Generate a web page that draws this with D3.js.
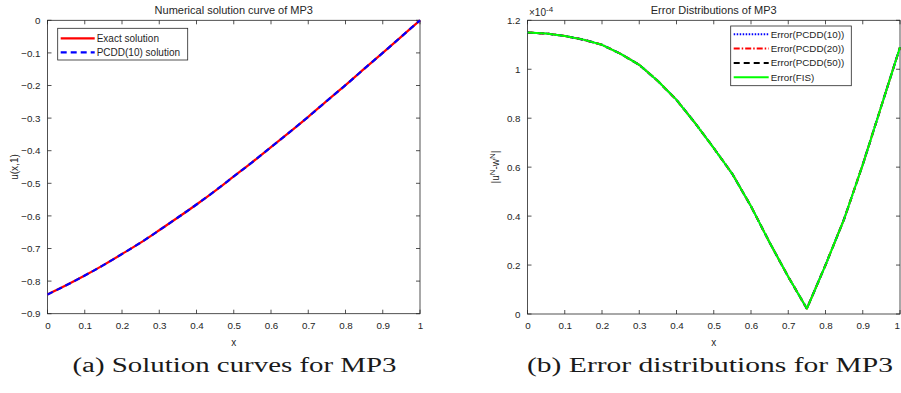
<!DOCTYPE html>
<html><head><meta charset="utf-8">
<script src="https://cdn.jsdelivr.net/npm/d3@7"></script>
<style>body{margin:0;background:#fff}svg text{font-family:"Liberation Sans",Arial,sans-serif;fill:#262626}</style>
</head><body><svg id="c" width="901" height="393"></svg>
<script>
// ---- data ----
const xs = [0,0.05,0.1,0.15,0.2,0.25,0.3,0.35,0.4,0.45,0.5,0.55,0.6,0.65,0.7,0.75,0.8,0.85,0.9,0.95,1];
const exactSol = [-0.841,-0.813,-0.783,-0.751,-0.717,-0.682,-0.644,-0.605,-0.565,-0.523,-0.479,-0.435,-0.389,-0.343,-0.296,-0.247,-0.199,-0.149,-0.100,-0.050,0.000];
const pcdd10Sol = [-0.841,-0.813,-0.783,-0.751,-0.717,-0.682,-0.644,-0.605,-0.565,-0.523,-0.479,-0.435,-0.389,-0.343,-0.296,-0.247,-0.199,-0.149,-0.100,-0.050,0.000];
// errors in units of 1e-4
const errFIS =    [1.150,1.146,1.136,1.121,1.100,1.063,1.018,0.952,0.875,0.780,0.678,0.572,0.440,0.292,0.152,0.022,0.200,0.388,0.610,0.850,1.090];
const errPCDD10 = [1.150,1.146,1.136,1.121,1.100,1.063,1.018,0.952,0.875,0.780,0.678,0.572,0.440,0.292,0.152,0.022,0.200,0.388,0.610,0.850,1.090];
const errPCDD20 = [1.150,1.146,1.136,1.121,1.100,1.063,1.018,0.952,0.875,0.780,0.678,0.572,0.440,0.292,0.152,0.022,0.200,0.388,0.610,0.850,1.090];
const errPCDD50 = [1.150,1.146,1.136,1.121,1.100,1.063,1.018,0.952,0.875,0.780,0.678,0.572,0.440,0.292,0.152,0.022,0.200,0.388,0.610,0.850,1.090];
const xTicks = [0,0.1,0.2,0.3,0.4,0.5,0.6,0.7,0.8,0.9,1];
const yTicksA = [-0.9,-0.8,-0.7,-0.6,-0.5,-0.4,-0.3,-0.2,-0.1,0];
const yTicksB = [0,0.2,0.4,0.6,0.8,1,1.2];
const legendA = ["Exact solution","PCDD(10) solution"];
const legendB = ["Error(PCDD(10))","Error(PCDD(20))","Error(PCDD(50))","Error(FIS)"];

const svg = d3.select("#c");
const axCol = "#262626";

function panel(opt){
  const g = svg.append("g");
  const x = d3.scaleLinear().domain([0,1]).range([opt.x0,opt.x1]);
  const y = d3.scaleLinear().domain(opt.yDom).range([opt.yb,opt.yt]);
  const tl = 4;
  const ax = d3.axisBottom(x).tickValues(xTicks).tickSize(0).tickPadding(8).tickFormat(d=>d3.format("")(+d.toFixed(1)));
  const gx = g.append("g").attr("transform",`translate(0,${opt.yb})`).call(ax);
  gx.select(".domain").remove();
  gx.selectAll("text").attr("font-size",9.8).style("fill",axCol).attr("font-family","Liberation Sans, Arial");
  if (opt.clampLast) gx.selectAll(".tick").filter(d=>d===1).select("text").attr("text-anchor","end").attr("x",-0.5);
  const ay = d3.axisLeft(y).tickValues(opt.yTicks).tickSize(0).tickPadding(7).tickFormat(opt.fmt);
  const gy = g.append("g").attr("transform",`translate(${opt.x0},0)`).call(ay);
  gy.select(".domain").remove();
  gy.selectAll("text").attr("font-size",9.8).style("fill",axCol).attr("font-family","Liberation Sans, Arial");
  xTicks.forEach(t=>{
    g.append("line").attr("x1",x(t)).attr("x2",x(t)).attr("y1",opt.yb).attr("y2",opt.yb-tl).attr("stroke",axCol).attr("stroke-width",0.8);
    g.append("line").attr("x1",x(t)).attr("x2",x(t)).attr("y1",opt.yt).attr("y2",opt.yt+tl).attr("stroke",axCol).attr("stroke-width",0.8);
  });
  opt.yTicks.forEach(t=>{
    g.append("line").attr("x1",opt.x0).attr("x2",opt.x0+tl).attr("y1",y(t)).attr("y2",y(t)).attr("stroke",axCol).attr("stroke-width",0.8);
    g.append("line").attr("x1",opt.x1).attr("x2",opt.x1-tl).attr("y1",y(t)).attr("y2",y(t)).attr("stroke",axCol).attr("stroke-width",0.8);
  });
  g.append("rect").attr("x",opt.x0).attr("y",opt.yt).attr("width",opt.x1-opt.x0).attr("height",opt.yb-opt.yt)
    .attr("fill","none").attr("stroke",axCol).attr("stroke-width",0.8);
  const clip = "clip"+opt.id;
  svg.append("clipPath").attr("id",clip).append("rect").attr("x",opt.x0-2).attr("y",opt.yt-2).attr("width",opt.x1-opt.x0+4).attr("height",opt.yb-opt.yt+4);
  const lg = g.append("g").attr("clip-path",`url(#${clip})`);
  const line = d3.line().curve(d3.curveMonotoneX).x((d,i)=>x(xs[i])).y(d=>y(d));
  const lineLin = d3.line().x((d,i)=>x(xs[i])).y(d=>y(d));
  opt.series.forEach(s=>{
    lg.append("path").datum(s.data).attr("d",opt.linear?lineLin:line).attr("fill","none").attr("stroke",s.color)
      .attr("stroke-width",s.w).attr("stroke-dasharray",s.dash||null).attr("stroke-linejoin","round");
  });
  g.append("text").attr("x",(opt.x0+opt.x1)/2).attr("y",14).attr("text-anchor","middle").attr("font-size",11).text(opt.title);
  g.append("text").attr("x",(opt.x0+opt.x1)/2).attr("y",346).attr("text-anchor","middle").attr("font-size",10).text("x");
  g.append("text").attr("x",opt.capX).attr("y",372).attr("text-anchor","middle")
    .attr("font-size",20).style("font-family","'Liberation Serif','DejaVu Serif',serif").style("fill","#1a1a1a")
    .attr("textLength",opt.capW).attr("lengthAdjust","spacingAndGlyphs").text(opt.caption);
  const L = opt.legend;
  g.append("rect").attr("x",L.x).attr("y",L.y).attr("width",L.w).attr("height",L.h).attr("fill","#fff").attr("stroke",axCol).attr("stroke-width",0.8);
  L.items.forEach((it,i)=>{
    const yy = L.y + L.first + i*L.step;
    g.append("line").attr("x1",L.x+3).attr("x2",L.x+L.lineW).attr("y1",yy).attr("y2",yy).attr("stroke",it.color)
      .attr("stroke-width",it.w).attr("stroke-dasharray",it.dash||null);
    g.append("text").attr("x",L.x+L.lineW+2).attr("y",yy+3.5).attr("font-size",L.fs).text(it.label);
  });
  return {g,x,y};
}

const A = panel({id:"a",x0:47.5,x1:420,yt:20.3,yb:313.7,yDom:[-0.9,0],yTicks:yTicksA,
  fmt:d=>d3.format("")(+d.toFixed(1)),
  title:"Numerical solution curve of MP3",caption:"(a) Solution curves for MP3",capX:234.5,capW:324,
  series:[{data:exactSol,color:"#ff0000",w:2.2},{data:pcdd10Sol,color:"#0000ff",w:2.2,dash:"6,4"}],
  legend:{x:57.7,y:28.3,w:130,h:31.7,first:10,step:14,lineW:37,fs:10,
    items:[{label:legendA[0],color:"#ff0000",w:2.2},{label:legendA[1],color:"#0000ff",w:2.2,dash:"6,4"}]}
});
A.g.append("text").attr("transform","translate(18,167) rotate(-90)").attr("text-anchor","middle").attr("font-size",10).text("u(x,1)");

const B = panel({id:"b",x0:527.5,x1:900,yt:20.3,yb:314,yDom:[0,1.2],yTicks:yTicksB,linear:true,clampLast:true,
  fmt:d=>d3.format("")(+d.toFixed(1)),
  title:"Error Distributions of MP3",caption:"(b) Error distributions for MP3",capX:710,capW:366,
  series:[{data:errPCDD50,color:"#000000",w:2.2,dash:"6,4"},{data:errPCDD20,color:"#ff0000",w:2,dash:"6,2,1.5,2"},
          {data:errPCDD10,color:"#0000ff",w:2,dash:"1.5,1.5"},{data:errFIS,color:"#00ff00",w:2}],
  legend:{x:730.7,y:26,w:120.6,h:59.7,first:8.3,step:14.3,lineW:38,fs:9.8,
    items:[{label:legendB[0],color:"#0000ff",w:2,dash:"1.5,1.5"},{label:legendB[1],color:"#ff0000",w:2,dash:"6,2,1.5,2"},
           {label:legendB[2],color:"#000000",w:2,dash:"6,4"},{label:legendB[3],color:"#00ff00",w:2}]}
});
const m = B.g.append("text").attr("x",529).attr("y",16).attr("font-size",10);
m.append("tspan").text("×10");
m.append("tspan").attr("dy",-4).attr("font-size",8).text("-4");
const yl = B.g.append("text").attr("transform","translate(499,167) rotate(-90)").attr("text-anchor","middle").attr("font-size",10);
yl.append("tspan").text("|u");
yl.append("tspan").attr("dy",-4).attr("font-size",8).text("N");
yl.append("tspan").attr("dy",4).text("-w");
yl.append("tspan").attr("dy",-4).attr("font-size",8).text("N");
yl.append("tspan").attr("dy",4).text("|");
</script></body></html>
